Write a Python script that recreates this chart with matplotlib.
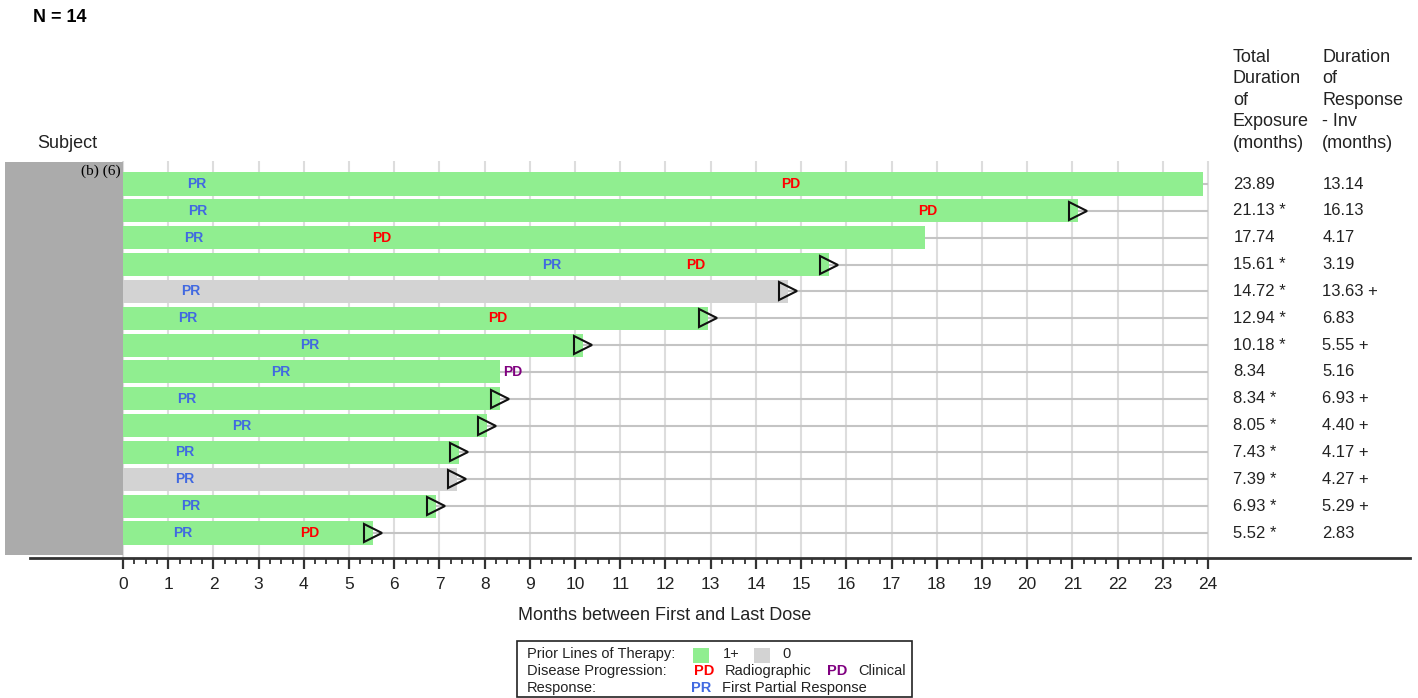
import numpy as np
import matplotlib
matplotlib.use("Agg")
import matplotlib.pyplot as plt
from matplotlib.patches import Rectangle

plt.rcParams['font.family'] = ['Liberation Sans', 'DejaVu Sans']

# datos por sujeto (de arriba hacia abajo)
exposicion = [23.89, 21.13, 17.74, 15.61, 14.72, 12.94, 10.18, 8.34, 8.34, 8.05, 7.43, 7.39, 6.93, 5.52]
en_curso = [False, True, False, True, True, True, True, False, True, True, True, True, True, True]
lineas_previas = ['1+', '1+', '1+', '1+', '0', '1+', '1+', '1+', '1+', '1+', '1+', '0', '1+', '1+']
t_pr = [1.64, 1.66, 1.57, 9.49, 1.49, 1.44, 4.12, 3.50, 1.40, 2.62, 1.37, 1.37, 1.49, 1.33]
t_pd = [14.77, 17.80, 5.72, 12.68, None, 8.29, None, 8.62, None, None, None, None, None, 4.12]
tipo_pd = ['R', 'R', 'R', 'R', None, 'R', None, 'C', None, None, None, None, None, 'R']
dor = [13.14, 16.13, 4.17, 3.19, 13.63, 6.83, 5.55, 5.16, 6.93, 4.40, 4.17, 4.27, 5.29, 2.83]
dor_censurado = [False, False, False, False, True, False, True, False, True, True, True, True, True, False]

meses = list(range(0, 25))

verde = '#90EE90'
gris = '#D3D3D3'
col_pr = '#4169E1'
col_pd = {'R': '#FF0000', 'C': '#800080'}
texto = '#222222'

W, H = 1418, 698


def px(x, y):
    return x / W, 1 - y / H


fig = plt.figure(figsize=(W / 100, H / 100), dpi=100)
ax = fig.add_axes([30 / W, 1 - 558 / H, 1380 / W, (558 - 161) / H])
ax.set_xlim(-2.058, 28.47)
ax.set_ylim(13.93, -0.857)

n = len(exposicion)
filas = np.arange(n)

# rejilla
ax.vlines(meses, -0.857, 13.93, color='#DDDDDD', lw=1.5, zorder=0)
ax.hlines(filas, 0, 24, color='#C4C4C4', lw=1.5, zorder=0)

colores = [verde if p == '1+' else gris for p in lineas_previas]
ax.barh(filas, exposicion, height=0.86, left=0, color=colores, zorder=2)

for i in range(n):
    ax.text(t_pr[i], i, 'PR', color=col_pr, fontsize=10, fontweight='bold',
            ha='center', va='center', zorder=4)
    if t_pd[i] is not None:
        ax.text(t_pd[i], i, 'PD', color=col_pd[tipo_pd[i]], fontsize=10,
                fontweight='bold', ha='center', va='center', zorder=4)
    if en_curso[i]:
        ax.plot(exposicion[i], i, marker='>', ms=12.5, mfc='none', mec='#111111',
                mew=1.5, zorder=5)
    etiqueta = f"{exposicion[i]:.2f}" + (" *" if en_curso[i] else "")
    ax.text(24.56, i, etiqueta, fontsize=12, color=texto, va='center', ha='left')
    etiqueta2 = f"{dor[i]:.2f}" + (" +" if dor_censurado[i] else "")
    ax.text(26.53, i, etiqueta2, fontsize=12, color=texto, va='center', ha='left')

# eje x
for s in ['left', 'top', 'right']:
    ax.spines[s].set_visible(False)
ax.spines['bottom'].set_color('#333333')
ax.spines['bottom'].set_linewidth(2)
ax.set_yticks([])
ax.set_xticks(meses)
ax.set_xticks(np.arange(0, 24.01, 0.25), minor=True)
ax.tick_params(axis='x', which='major', length=8, width=1.6, color='#333333',
               labelsize=12.5, labelcolor=texto, pad=6)
ax.tick_params(axis='x', which='minor', length=4, width=1.3, color='#333333')

fig.text(*px(665, 616), 'Months between First and Last Dose', fontsize=13,
         color=texto, ha='center', va='center')

# cabeceras
fig.text(*px(33, 17), 'N = 14', fontsize=13, fontweight='bold', ha='left', va='center')
fig.text(*px(37, 144), 'Subject', fontsize=13, color=texto, ha='left', va='center')
fig.text(*px(1233, 49), 'Total\nDuration\nof\nExposure\n(months)', fontsize=13,
         color=texto, ha='left', va='top', linespacing=1.34)
fig.text(*px(1322, 49), 'Duration\nof\nResponse\n- Inv\n(months)', fontsize=13,
         color=texto, ha='left', va='top', linespacing=1.34)

# columna de sujetos oculta
x0, y0 = px(5, 555)
fig.add_artist(Rectangle((x0, y0), 118 / W, (555 - 162) / H, transform=fig.transFigure,
                         facecolor='#ABABAB', edgecolor='none'))
fig.text(*px(121, 171), '(b) (6)', fontfamily='Liberation Serif', fontsize=11,
         ha='right', va='center')

# leyenda
lx, ly = px(517, 697)
fig.add_artist(Rectangle((lx, ly), (912 - 517) / W, (697 - 641) / H, transform=fig.transFigure,
                         facecolor='white', edgecolor='#222222', lw=1.2))
fs_ley = 10.5
fig.text(*px(527, 654), 'Prior Lines of Therapy:', fontsize=fs_ley, color=texto, va='center')
fig.text(*px(527, 671), 'Disease Progression:', fontsize=fs_ley, color=texto, va='center')
fig.text(*px(527, 688), 'Response:', fontsize=fs_ley, color=texto, va='center')
for xa, c in [(693, verde), (754, gris)]:
    ax_, ay_ = px(xa, 663)
    fig.add_artist(Rectangle((ax_, ay_), 16 / W, 15 / H, transform=fig.transFigure,
                             facecolor=c, edgecolor='none'))
fig.text(*px(723, 654), '1+', fontsize=fs_ley, color=texto, va='center')
fig.text(*px(782, 654), '0', fontsize=fs_ley, color=texto, va='center')
fig.text(*px(694, 671), 'PD', fontsize=fs_ley, fontweight='bold', color=col_pd['R'], va='center')
fig.text(*px(725, 671), 'Radiographic', fontsize=fs_ley, color=texto, va='center')
fig.text(*px(827, 671), 'PD', fontsize=fs_ley, fontweight='bold', color=col_pd['C'], va='center')
fig.text(*px(858, 671), 'Clinical', fontsize=fs_ley, color=texto, va='center')
fig.text(*px(691, 688), 'PR', fontsize=fs_ley, fontweight='bold', color=col_pr, va='center')
fig.text(*px(722, 688), 'First Partial Response', fontsize=fs_ley, color=texto, va='center')

fig.savefig('out.png', dpi=100)
